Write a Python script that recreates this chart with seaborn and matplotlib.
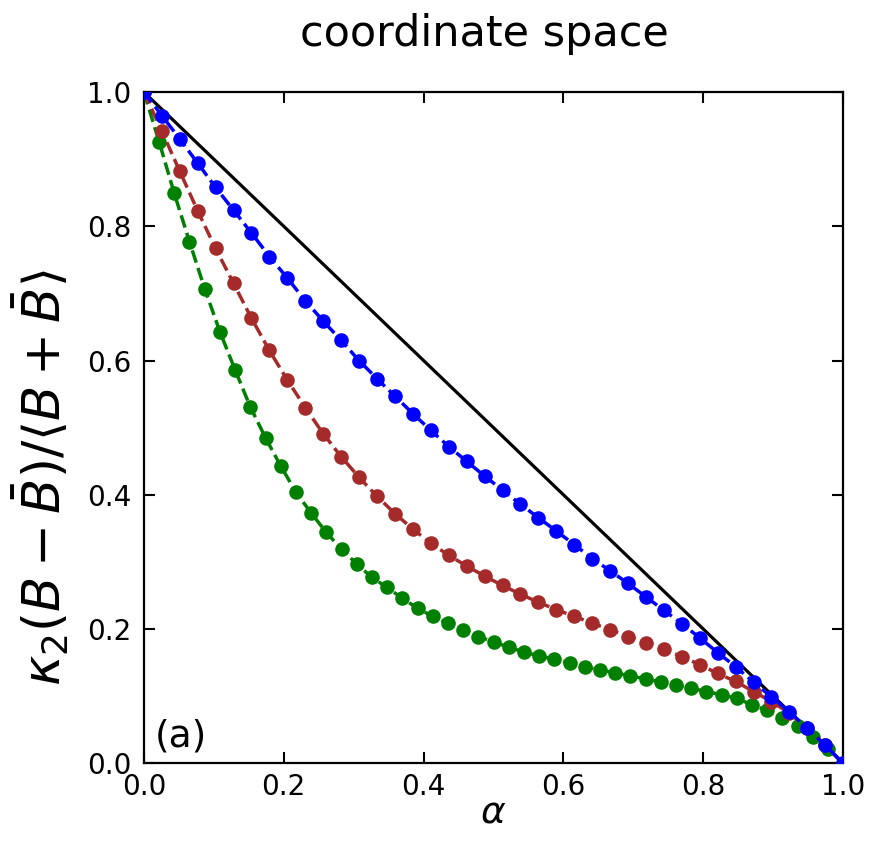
import numpy as np
import pandas as pd
import matplotlib
matplotlib.use("Agg")
import matplotlib.pyplot as plt
import seaborn as sns

# kappa_2 ratio for three cases; alpha grids are uniform over [0, 1]
alpha_blue = np.linspace(0.0, 1.0, 40)
kappa_blue = [1.000, 0.965, 0.930, 0.894, 0.858, 0.824, 0.790, 0.755, 0.723, 0.689,
              0.659, 0.630, 0.600, 0.573, 0.547, 0.521, 0.496, 0.472, 0.450, 0.428,
              0.407, 0.386, 0.366, 0.346, 0.326, 0.305, 0.287, 0.268, 0.248, 0.228,
              0.208, 0.187, 0.165, 0.144, 0.121, 0.099, 0.077, 0.052, 0.027, 0.000]

alpha_red = np.linspace(0.0, 1.0, 40)
kappa_red = [1.000, 0.942, 0.882, 0.823, 0.767, 0.715, 0.663, 0.615, 0.571, 0.530,
             0.491, 0.457, 0.426, 0.398, 0.372, 0.349, 0.328, 0.310, 0.294, 0.279,
             0.265, 0.252, 0.240, 0.229, 0.219, 0.209, 0.199, 0.189, 0.180, 0.170,
             0.159, 0.147, 0.134, 0.122, 0.107, 0.092, 0.075, 0.052, 0.027, 0.000]

alpha_green = np.linspace(0.0, 1.0, 47)
kappa_green = [1.000, 0.926, 0.849, 0.777, 0.707, 0.643, 0.586, 0.531, 0.485, 0.443,
               0.404, 0.373, 0.344, 0.319, 0.297, 0.277, 0.262, 0.246, 0.231, 0.219,
               0.209, 0.199, 0.189, 0.181, 0.173, 0.166, 0.160, 0.155, 0.150, 0.144,
               0.139, 0.135, 0.130, 0.126, 0.121, 0.117, 0.112, 0.107, 0.102, 0.097,
               0.087, 0.079, 0.067, 0.055, 0.040, 0.022, 0.000]

# reference line kappa_2 = 1 - alpha
alpha_ref = [0.0, 1.0]
kappa_ref = [1.0, 0.0]

ticks = [0.0, 0.2, 0.4, 0.6, 0.8, 1.0]
tick_labels = ["0.0", "0.2", "0.4", "0.6", "0.8", "1.0"]

sns.set_style("ticks")
plt.rcParams["font.family"] = ["DejaVu Sans"]
plt.rcParams["mathtext.fontset"] = "dejavusans"
plt.rcParams["text.color"] = "black"
plt.rcParams["axes.labelcolor"] = "black"
plt.rcParams["xtick.color"] = "black"
plt.rcParams["ytick.color"] = "black"
plt.rcParams["axes.edgecolor"] = "black"

fig = plt.figure(figsize=(8.72, 8.52), dpi=100)
ax = fig.add_axes([0.165, 0.104, 0.802, 0.788])

sns.lineplot(x=alpha_ref, y=kappa_ref, color="black", linewidth=2.3, ax=ax, zorder=2)

series = [
    (alpha_green, kappa_green, "#008000"),
    (alpha_red, kappa_red, "#a52a2a"),
    (alpha_blue, kappa_blue, "#0000ff"),
]
for i, (a, k, c) in enumerate(series):
    df = pd.DataFrame({"alpha": a, "kappa": k})
    sns.lineplot(data=df, x="alpha", y="kappa", color=c, linestyle="--",
                 linewidth=2.5, marker="o", markersize=10.5,
                 markeredgecolor=c, markeredgewidth=0, ax=ax, zorder=3 + i)

ax.set_xlim(0, 1)
ax.set_ylim(0, 1)
ax.set_xticks(ticks)
ax.set_xticklabels(tick_labels)
ax.set_yticks(ticks)
ax.set_yticklabels(tick_labels)
ax.tick_params(direction="in", length=8, width=1.5, labelsize=20,
               top=True, right=True)
ax.tick_params(axis="y", pad=9)
ax.tick_params(axis="x", pad=7)
for s in ax.spines.values():
    s.set_linewidth(1.6)
    s.set_visible(True)

ax.set_xlabel(r"$\alpha$", fontsize=27, labelpad=-5)
ax.set_ylabel(r"$\kappa_2(B-\bar{B})/\langle B+\bar{B}\rangle$", fontsize=37)
ax.yaxis.set_label_coords(-0.103, 0.425)
ax.set_title("coordinate space", fontsize=31, pad=33, x=0.487)
ax.text(0.015, 0.025, "(a)", fontsize=27, transform=ax.transAxes)

fig.savefig("out.png", dpi=100)
